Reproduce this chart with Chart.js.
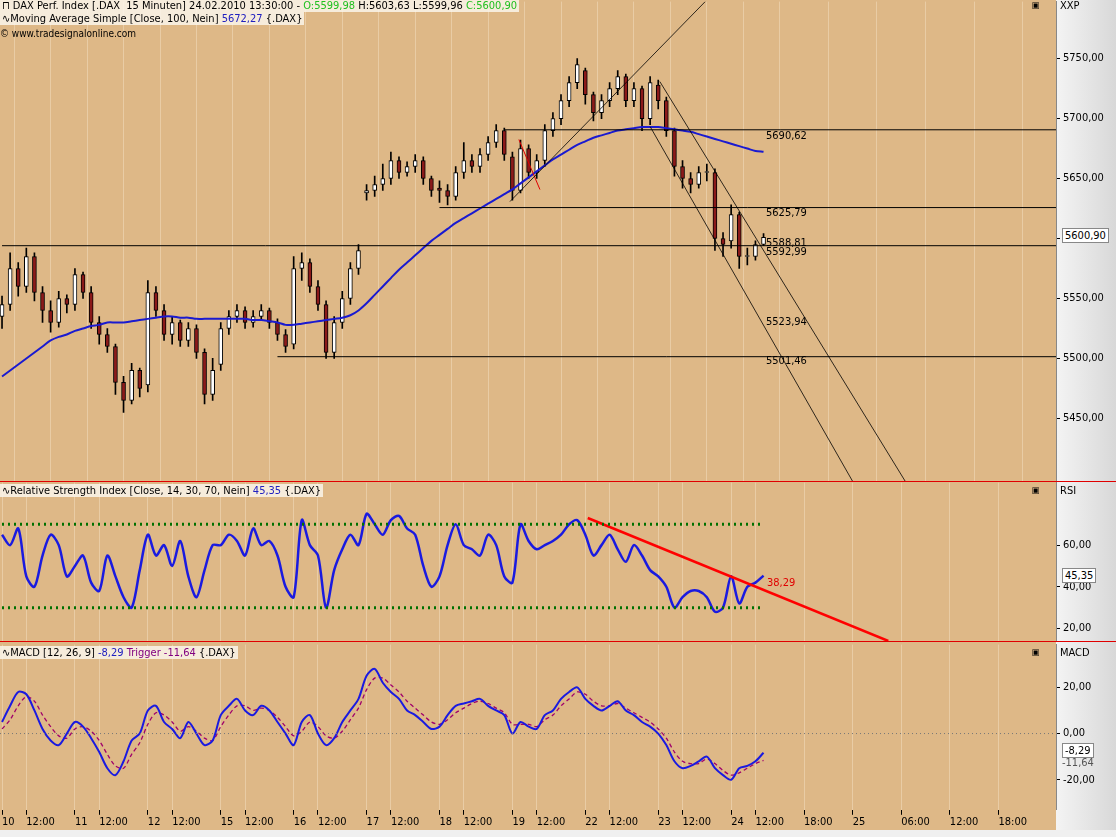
<!DOCTYPE html>
<html><head><meta charset="utf-8">
<script src="https://cdn.jsdelivr.net/npm/chart.js@4.4.1/dist/chart.umd.min.js"></script>
<style>
body{margin:0;width:1116px;height:837px;background:#f0f0f0;overflow:hidden;font-family:"DejaVu Sans Condensed","Liberation Sans Narrow",sans-serif;}
.pane{position:absolute;left:0;width:1116px;overflow:hidden;background:linear-gradient(90deg,#deb887 0,#deb887 1056px,#f4f4f4 1056px,#d8d8d8 1116px);}
canvas{position:absolute;left:0;}
.t{position:absolute;font-size:11px;white-space:nowrap;color:#000;}
.hd{background:rgba(250,245,235,0.85);padding:0 2px;}
.box{background:#fff;border:1px solid #888;padding:0 2px;}
.rl{position:absolute;left:0;width:1116px;height:1px;background:#e00000;z-index:5;}
</style></head><body>
<div class="pane" style="top:0;height:481px"><canvas id="cPrice" style="top:-8px"></canvas></div>
<div class="pane" style="top:481px;height:160px"><canvas id="cRsi" style="top:-8px"></canvas></div>
<div class="pane" style="top:642px;height:188px"><canvas id="cMacd" style="top:-7px"></canvas></div>
<div class="rl" style="top:481px"></div>
<div class="rl" style="top:641px"></div>

<div class="t hd" style="left:0;top:-1px">&#x2293; DAX Perf. Index [.DAX&nbsp; 15 Minuten] 24.02.2010 13:30:00 - <span style="color:#20c020">O:5599,98</span> H:5603,63 L:5599,96 <span style="color:#20c020">C:5600,90</span></div>
<div class="t hd" style="left:0;top:12px">&#x223F;Moving Average Simple [Close, 100, Nein] <span style="color:#2020c0">5672,27</span> {.DAX}</div>
<div class="t" style="left:0;top:28px;font-size:10px">&copy; www.tradesignalonline.com</div>
<div class="t" style="left:1060px;top:-1px">XXP</div>
<div class="t" style="left:1032px;top:0px;font-size:9px">&#x25A3;</div>
<div class="t" style="left:766px;top:129px">5690,62</div>
<div class="t" style="left:766px;top:206px">5625,79</div>
<div class="t" style="left:766px;top:236px">5588,81</div>
<div class="t" style="left:766px;top:245px">5592,99</div>
<div class="t" style="left:766px;top:315px">5523,94</div>
<div class="t" style="left:766px;top:354px">5501,46</div>
<div class="t box" style="left:1062px;top:228px">5600,90</div>

<div class="t hd" style="left:0;top:484px">&#x223F;Relative Strength Index [Close, 14, 30, 70, Nein] <span style="color:#2020c0">45,35</span> {.DAX}</div>
<div class="t" style="left:1032px;top:485px;font-size:9px">&#x25A3;</div>
<div class="t" style="left:1060px;top:484px">RSI</div>
<div class="t" style="left:767px;top:576px;color:#e00000">38,29</div>
<div class="t box" style="left:1062px;top:568px">45,35</div>

<div class="t hd" style="left:0;top:646px">&#x223F;MACD [12, 26, 9] <span style="color:#2020c0">-8,29</span> <span style="color:#800080">Trigger -11,64</span> {.DAX}</div>
<div class="t" style="left:1032px;top:647px;font-size:9px">&#x25A3;</div>
<div class="t" style="left:1060px;top:646px">MACD</div>
<div class="t" style="left:1062px;top:756px;color:#555">-11,64</div>
<div class="t box" style="left:1062px;top:743px">-8,29</div>
<script>
// hourly bars, 9 per trading day
const closes = [5545,5575,5560,5585,5555,5540,5530,5550,5545,
  5570,5555,5530,5520,5510,5480,5465,5490,5475,
  5555,5540,5520,5530,5515,5525,5505,5470,5490,
  5525,5535,5540,5530,5535,5540,5530,5520,5510,
  5575,5580,5560,5545,5505,5530,5550,5575,5590,
  5640,5645,5650,5665,5655,5660,5665,5650,5640,
  5640,5635,5655,5665,5660,5670,5680,5690,5670,
  5640,5675,5655,5665,5690,5700,5715,5730,5745,
  5720,5705,5715,5725,5735,5715,5725,5700,5730,
  5715,5690,5660,5650,5645,5655,5655,5600,5595,
  5620,5585,5585,5595,5600.9];
const opens = [5535,5545,5575,5560,5585,5555,5540,5530,5550,
  5545,5570,5555,5530,5520,5510,5480,5465,5490,
  5478,5555,5540,5520,5530,5515,5525,5505,5470,
  5495,5525,5535,5540,5530,5535,5540,5530,5520,
  5512,5575,5580,5560,5545,5505,5530,5550,5575,
  5638,5640,5645,5650,5665,5655,5660,5665,5650,
  5642,5640,5635,5655,5665,5660,5670,5680,5690,
  5668,5640,5675,5655,5665,5690,5700,5715,5730,
  5740,5720,5705,5715,5725,5735,5715,5725,5700,
  5728,5715,5690,5660,5650,5645,5655,5655,5600,
  5598,5620,5585,5585,5595];
const highs = [5552,5588,5580,5592,5588,5560,5548,5556,5553,
  5575,5572,5560,5535,5525,5512,5485,5496,5492,
  5565,5560,5545,5535,5532,5530,5528,5508,5500,
  5530,5540,5545,5543,5540,5545,5542,5533,5524,
  5585,5588,5583,5565,5548,5535,5556,5580,5595,
  5645,5652,5662,5672,5668,5664,5670,5668,5652,
  5648,5645,5660,5680,5670,5675,5685,5695,5692,
  5672,5682,5678,5670,5695,5705,5720,5735,5750,
  5742,5722,5720,5730,5740,5737,5730,5727,5735,
  5732,5718,5692,5665,5655,5660,5662,5658,5605,
  5628,5622,5592,5598,5604];
const lows = [5525,5540,5552,5555,5548,5530,5522,5526,5538,
  5540,5550,5525,5512,5505,5470,5455,5462,5468,
  5472,5535,5515,5512,5510,5510,5500,5462,5465,
  5490,5520,5530,5525,5526,5532,5525,5515,5505,
  5508,5565,5555,5540,5500,5500,5525,5545,5570,
  5632,5635,5640,5645,5650,5652,5655,5645,5635,
  5630,5628,5632,5650,5655,5655,5665,5676,5665,
  5632,5638,5650,5650,5660,5685,5695,5710,5725,
  5712,5698,5700,5710,5720,5710,5710,5690,5695,
  5708,5685,5652,5642,5638,5642,5648,5590,5585,
  5592,5575,5578,5582,5594];
const ma100 = [5485,5490,5495,5500,5505,5510,5515,5518,5520,
  5523,5525,5527,5528,5530,5530,5530,5531,5532,
  5533,5534,5535,5535,5534,5534,5533,5533,5533,
  5533,5533,5533,5533,5532,5532,5531,5530,5528,
  5528,5529,5530,5531,5532,5533,5534,5536,5540,
  5546,5553,5560,5567,5574,5580,5586,5592,5598,
  5603,5608,5613,5617,5621,5625,5629,5633,5637,
  5641,5646,5651,5656,5661,5666,5670,5674,5678,
  5681,5684,5686,5688,5690,5691,5692,5693,5693,
  5693,5692,5691,5690,5689,5687,5685,5683,5681,
  5679,5677,5675,5673,5672.27];
const rsi = [65,60,68,45,40,55,65,60,45,
  50,55,42,38,55,45,35,30,48,
  65,55,60,50,62,45,35,48,60,
  60,65,62,55,68,60,62,55,40,
  35,72,60,55,30,48,58,65,60,
  75,70,65,72,74,68,65,50,40,
  45,60,70,60,58,55,65,60,45,
  42,70,62,58,60,62,65,70,72,
  65,55,60,65,58,52,60,55,48,
  45,40,30,35,38,38,35,28,30,
  45,32,40,42,45.35];
const macd = [5,12,18,17,10,2,-3,-5,0,
  5,3,-2,-8,-15,-18,-12,-3,0,
  10,12,5,2,-2,5,0,-5,-3,
  8,12,15,10,8,12,10,5,0,
  -5,5,8,0,-5,-2,5,10,15,
  25,28,22,18,15,10,8,5,2,
  3,8,12,13,14,15,12,10,8,
  0,5,3,2,8,10,15,18,20,
  15,12,10,12,14,10,8,5,3,
  0,-5,-12,-15,-14,-12,-10,-15,-18,
  -20,-15,-14,-12,-8.29];
const trigger = [2,6,12,16,14,8,3,-1,-2,
  2,3,1,-3,-9,-14,-15,-9,-4,
  4,9,8,5,1,3,1,-2,-3,
  3,8,12,12,10,11,10,7,3,
  -1,1,5,3,-1,-2,1,6,11,
  19,24,24,21,18,14,11,8,5,
  4,6,9,11,13,14,13,11,9,
  4,4,4,3,6,8,12,15,18,
  17,14,12,12,13,11,9,7,5,
  2,-2,-8,-12,-13,-13,-11,-13,-16,
  -18,-17,-15,-13,-11.64];
const tickPos = [0,3,9,12,18,21,27,30,36,39,45,48,54,57,63,66,72,75,81,84,90,93,99,105,111,117,123];
const tickLabels = ['10','12:00','11','12:00','12','12:00','15','12:00','16','12:00','17','12:00','18','12:00','19','12:00','22','12:00','23','12:00','24','12:00','18:00','25','06:00','12:00','18:00'];
const priceTicks = [5450,5500,5550,5600,5650,5700,5750];
const rsiTicks = [20,40,60];
const macdTicks = [-20,0,20];
const hLevels = [[62,5690.62],[54,5625.79],[0,5594],[34,5501.46]];
const upLine = [[62.7,5630.8],[86.8,5797.5]];
const chan1 = [[81.2,5730.8],[111.5,5397.5]];
const chan2 = [[80,5693.3],[105,5397.5]];
const flag = [[63.8,5682.5],[66.4,5640.8]];
const rsiTrend = [[72.3,73],[109.4,14]];

const X_MIN = -0.25, X_MAX = 130.1;
const PAD_T = 8, PAD_B = 10; // space chart.js keeps for the y labels
const fontAx = {family:'"DejaVu Sans Condensed","Liberation Sans Narrow",sans-serif', size:11};
const fmt = v => v.toFixed(2).replace('.', ',');

const bgPlugin = {id:'bg', beforeDraw(c){const a=c.chartArea,x=c.ctx;x.save();x.fillStyle='#deb887';x.fillRect(a.left,a.top,a.right-a.left,a.bottom-a.top);x.restore();}};

function xScale(showLabels){
  return {type:'linear', min:X_MIN, max:X_MAX, offset:false,
    afterBuildTicks: s => { s.ticks = tickPos.map(v => ({value:v})); },
    afterFit: s => { if(!showLabels) s.height = 0; },
    border:{display:false},
    grid:{color:'rgba(255,240,220,0.35)', drawTicks:showLabels, tickLength:5, tickColor:'#000'},
    ticks:{display:showLabels, autoSkip:false, maxRotation:0, align:'start', color:'#000', font:fontAx, padding:1,
      callback:(v) => { const i = tickPos.indexOf(v); return i>=0 ? tickLabels[i] : ''; }}};
}
function yScale(min,max,ticks){
  return {position:'right', min, max,
    afterBuildTicks: s => { s.ticks = ticks.map(v => ({value:v})); },
    afterFit: s => { s.width = 60; },
    border:{display:true, color:'#888'},
    grid:{drawOnChartArea:false, tickLength:4, tickColor:'#000'},
    ticks:{color:'#000', font:fontAx, padding:3, callback:v => fmt(v)}};
}
function seg(pts,color,w,dash){
  return {type:'line', data:pts.map(p=>({x:p[0],y:p[1]})), borderColor:color, borderWidth:w, borderDash:dash||[], pointRadius:0, order:0};
}
const idx = closes.map((_,i)=>i);
const baseOpts = (scales) => ({responsive:false, animation:false, events:[],
  layout:{padding:0}, plugins:{legend:{display:false}, tooltip:{enabled:false}}, scales});

function sizeCanvas(id,w,h){const c=document.getElementById(id);c.width=w;c.height=h;c.style.width=w+'px';c.style.height=h+'px';return c;}

new Chart(sizeCanvas('cPrice',1116,481+PAD_T+PAD_B), {type:'bar', plugins:[bgPlugin],
  data:{datasets:[
    {data:idx.map(i=>({x:i,y:[lows[i],highs[i]]})), backgroundColor:'#000', barThickness:1, grouped:false, order:3},
    {data:idx.map(i=>({x:i,y:[opens[i],closes[i]]})), backgroundColor:idx.map(i=>closes[i]>=opens[i]?'#ffffff':'#8b1a1a'),
      borderColor:'#000', borderWidth:1, borderSkipped:false, barThickness:4, minBarLength:1, grouped:false, order:2},
    {type:'line', data:idx.map(i=>({x:i,y:ma100[i]})), borderColor:'#1a1ad0', borderWidth:2, pointRadius:0, tension:0.3, order:1},
    ...hLevels.map(h => seg([[h[0],h[1]],[X_MAX,h[1]]],'#000',1)),
    seg(upLine,'#000',0.8), seg(chan1,'#000',0.8), seg(chan2,'#000',0.8), seg(flag,'#e00000',1)
  ]},
  options:baseOpts({x:xScale(false), y:yScale(5397.5,5797.5,priceTicks)})});

new Chart(sizeCanvas('cRsi',1116,160+PAD_T+PAD_B), {type:'line', plugins:[bgPlugin],
  data:{datasets:[
    {data:idx.map(i=>({x:i,y:rsi[i]})), borderColor:'#1a1ae0', borderWidth:2.5, pointRadius:0, tension:0.3, order:1},
    seg([[0,70],[94,70]],'#007000',3,[2,4]), seg([[0,30],[94,30]],'#007000',3,[2,4]),
    seg(rsiTrend,'#ff0000',2.5)
  ]},
  options:baseOpts({x:xScale(false), y:yScale(13.8,90,rsiTicks)})});

new Chart(sizeCanvas('cMacd',1116,188+7), {type:'line', plugins:[bgPlugin],
  data:{datasets:[
    {data:idx.map(i=>({x:i,y:macd[i]})), borderColor:'#1a1ae0', borderWidth:2, pointRadius:0, tension:0.3, order:1},
    {data:idx.map(i=>({x:i,y:trigger[i]})), borderColor:'#a0006a', borderWidth:1.3, borderDash:[4,3], pointRadius:0, tension:0.3, order:2},
    seg([[X_MIN,0],[X_MAX,0]],'#777',1,[1,3])
  ]},
  options:baseOpts({x:xScale(true), y:yScale(-33,38.5,macdTicks)})});
</script>
</body></html>
